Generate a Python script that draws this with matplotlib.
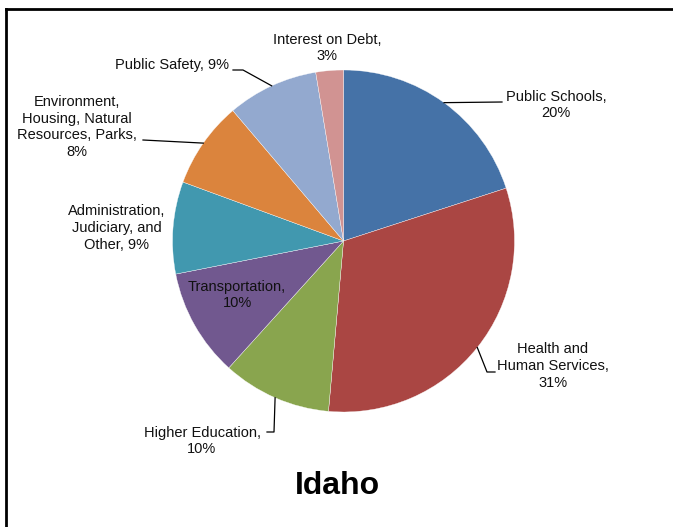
import numpy as np
import matplotlib.pyplot as plt
from matplotlib.lines import Line2D

plt.rcParams["font.family"] = ["Liberation Sans", "DejaVu Sans"]

# chart data
categories = [
    "Public Schools",
    "Health and\nHuman Services",
    "Higher Education",
    "Transportation",
    "Administration,\nJudiciary, and\nOther",
    "Environment,\nHousing, Natural\nResources, Parks",
    "Public Safety",
    "Interest on Debt",
]
shares = [20.0, 31.4, 10.3, 10.2, 8.7, 8.2, 8.6, 2.6]
colors = ["#4572A7", "#AA4643", "#89A54E", "#71588F",
          "#4198AF", "#DB843D", "#93A9CF", "#D19392"]
title = "Idaho"

# layout in pixel coords (y down from top)
W, H = 673, 527
CX, CY, R = 343.5, 241, 171
pct_sep = [",\n", ",\n", ",\n", ",\n", ", ", ",\n", ", ", ",\n"]
label_pos = [(556, 105), (553, 366), (202, 441), (237, 295),
             (117, 228), (77, 127), (172, 65), (327, 48)]
# leader bend points after the wedge-edge start (None = no leader)
leader_pts = [
    [(502, 102)],
    [(487, 372), (495, 372)],
    [(274, 432), (267, 432)],
    None,
    None,
    [(143, 140)],
    [(243, 70), (233, 70)],
    None,
]


def make_plot():
    fig = plt.figure(figsize=(W / 100, H / 100), dpi=100)
    ax = fig.add_axes([0, 0, 1, 1])

    wedges, _ = ax.pie(
        shares,
        colors=colors,
        startangle=90,
        counterclock=False,
        center=(CX, H - CY),
        radius=R,
        wedgeprops=dict(edgecolor="white", linewidth=0.25),
        frame=True,
    )
    ax.set_xlim(0, W)
    ax.set_ylim(0, H)
    ax.axis("off")

    total = sum(shares)
    for i, w in enumerate(wedges):
        pct = round(shares[i] / total * 100)
        text = categories[i] + pct_sep[i] + f"{pct}%"
        x, y = label_pos[i]
        ax.text(x, H - y, text, ha="center", va="center",
                multialignment="center", fontsize=10.5, color="#111111",
                linespacing=1.25)
        if leader_pts[i] is not None:
            mid = np.deg2rad((w.theta1 + w.theta2) / 2)
            sx = CX + R * np.cos(mid)
            sy = CY - R * np.sin(mid)
            xs = [sx] + [p[0] for p in leader_pts[i]]
            ys = [H - sy] + [H - p[1] for p in leader_pts[i]]
            ax.plot(xs, ys, color="black", linewidth=0.9)

    ax.text(337, H - 486, title, ha="center", va="center",
            fontsize=23, fontweight="bold")

    # outer frame (top and left edges visible)
    fig.add_artist(Line2D([5.5 / W, 1.0], [1 - 8.5 / H, 1 - 8.5 / H],
                          transform=fig.transFigure, color="black", linewidth=2))
    fig.add_artist(Line2D([5.5 / W, 5.5 / W], [0.0, 1 - 8.5 / H],
                          transform=fig.transFigure, color="black", linewidth=2))

    fig.savefig("out.png", dpi=100)


if __name__ == "__main__":
    make_plot()
